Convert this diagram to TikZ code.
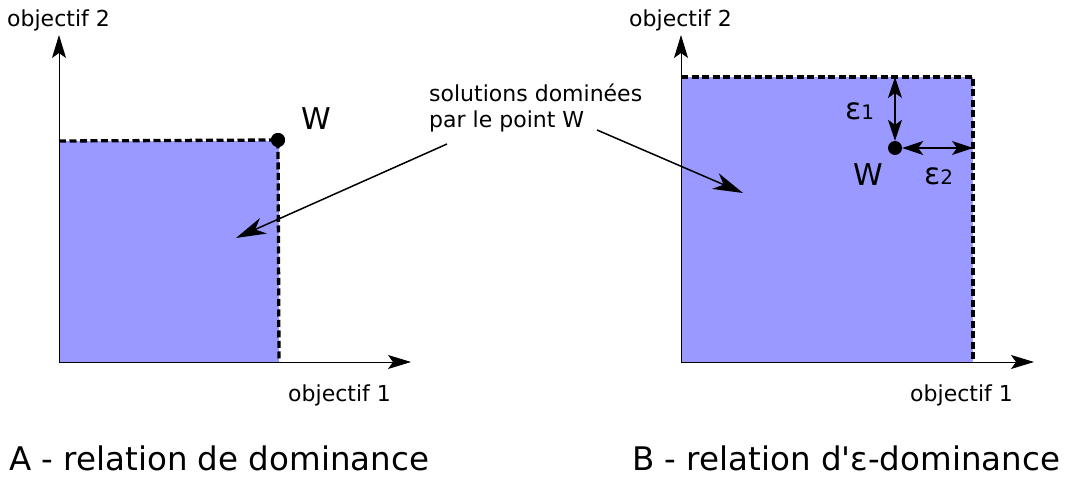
\documentclass[tikz,border=0pt]{standalone}
\usepackage{fontspec}
\setmainfont{DejaVu Sans}
\usetikzlibrary{arrows.meta}
\definecolor{domfill}{HTML}{9999FF}
\begin{document}
\begin{tikzpicture}[x=1pt,y=-1pt,
  axis/.style={line width=1pt,-{Stealth[length=23pt,width=14pt,inset=5pt]}},
  frontier/.style={line width=3.3pt,dash pattern=on 7pt off 3.5pt},
  leader/.style={line width=1.5pt,-{Stealth[length=30pt,width=17pt,inset=9pt]}},
  epsarrow/.style={line width=1.2pt,{Stealth[length=21pt,width=14pt,inset=5pt]}-{Stealth[length=21pt,width=14pt,inset=5pt]}},
  axlabel/.style={font=\fontsize{22}{26}\selectfont,anchor=base west,inner sep=0pt},
  caption/.style={font=\fontsize{32.5}{38}\selectfont,anchor=base west,inner sep=0pt},
  bigl/.style={font=\fontsize{30}{36}\selectfont,anchor=base west,inner sep=0pt},
  dot/.style={circle,fill=black,minimum size=14pt,inner sep=0pt}
]
\useasboundingbox (0,0) rectangle (1065,478);
% ---------- panel A ----------
\fill[domfill] (59,141) rectangle (279,362);
\coordinate (Ao) at (59,362);
\coordinate (Ay) at (59,35);
\coordinate (Ax) at (411,362);
\draw[axis] (Ao) -- (Ay);
\draw[axis] (Ao) -- (Ax);
\coordinate (Atl) at (59,141);
\coordinate (Abr) at (279,362);
\node[dot] (WA) at (278,140) {};
\draw[frontier] (Atl) -- (WA.center) -- (Abr);
\node[dot] at (278,140) {};
\node[bigl] (WAl) at (301,130) {W};
\node[axlabel] (A2) at (7,27) {objectif 2};
\node[axlabel] (A1) at (288,401) {objectif 1};
\node[caption] (capA) at (9,470) {A - relation de dominance};
% ---------- panel B ----------
\fill[domfill] (681,77) rectangle (973,362);
\coordinate (Bo) at (681,362);
\coordinate (By) at (681,35);
\coordinate (Bx) at (1034,362);
\draw[axis] (Bo) -- (By);
\draw[axis] (Bo) -- (Bx);
\coordinate (Btl) at (681,77);
\coordinate (Btr) at (973,77);
\coordinate (Bbr) at (973,362);
\draw[frontier] (Btl) -- (Btr) -- (Bbr);
\node[dot] (WB) at (895,148) {};
\coordinate (E1top) at (895,77);
\coordinate (E2right) at (973,148);
\draw[epsarrow] (WB.north) -- (E1top);
\draw[epsarrow] (WB.east) -- (E2right);
\node[bigl] (WBl) at (853,186) {W};
\node[bigl] (e1) at (845,120) {ε\fontsize{20}{24}\selectfont 1};
\node[bigl] (e2) at (924,185) {ε\fontsize{20}{24}\selectfont 2};
\node[axlabel] (B2) at (629,27) {objectif 2};
\node[axlabel] (B1) at (910,401) {objectif 1};
\node[caption] (capB) at (632,470) {B - relation d\textquotesingle ε-dominance};
% ---------- annotation ----------
\node[font=\fontsize{22}{26}\selectfont,align=left,anchor=north west,inner sep=0pt] (note) at (429,84) {solutions dominées\\par le point W};
\coordinate (LA) at (447,144);
\coordinate (LAt) at (236,238);
\coordinate (LB) at (597,130);
\coordinate (LBt) at (743,193);
\draw[leader] (LA) -- (LAt);
\draw[leader] (LB) -- (LBt);
\end{tikzpicture}
\end{document}
